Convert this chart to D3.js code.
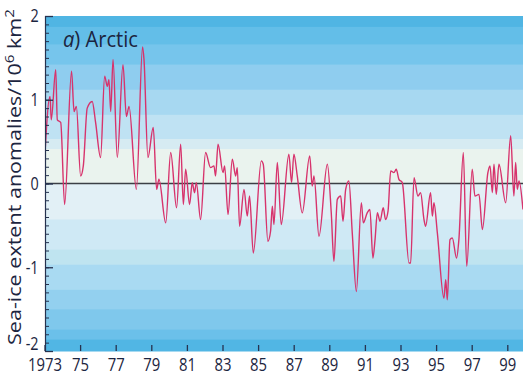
<!DOCTYPE html>
<html>
<head>
<meta charset="utf-8">
<script src="https://cdn.jsdelivr.net/npm/d3@7"></script>
<style>
  body { margin: 0; background: #fff; }
  svg { display: block; }
  text { font-family: "Open Sans", "Noto Sans", sans-serif; fill: #1c2540; }
</style>
</head>
<body>
<svg id="chart" width="523" height="376"></svg>
<script>
// monthly sea-ice anomaly curve at its turning points
var years = [
  1972.97, 1973.31, 1973.38, 1973.63, 1973.72, 1973.91, 1974.13, 1974.52, 1974.66, 1974.79,
  1975.03, 1975.18, 1975.40, 1975.68, 1975.87, 1976.15, 1976.38, 1976.53, 1976.62, 1976.72,
  1976.85, 1977.09, 1977.41, 1977.60, 1977.75, 1978.16, 1978.51, 1978.59, 1978.81, 1979.11,
  1979.30, 1979.43, 1979.81, 1980.09, 1980.42, 1980.65, 1980.80, 1980.93, 1981.15, 1981.30,
  1981.43, 1981.53, 1981.77, 1982.05, 1982.33, 1982.52, 1982.61, 1982.75, 1983.03, 1983.12,
  1983.31, 1983.55, 1983.74, 1983.83, 1983.96, 1984.21, 1984.39, 1984.52, 1984.73, 1985.18,
  1985.29, 1985.55, 1985.70, 1985.80, 1985.89, 1986.08, 1986.30, 1986.73, 1986.88, 1987.01,
  1987.20, 1987.48, 1987.90, 1988.04, 1988.14, 1988.42, 1988.89, 1989.11, 1989.26, 1989.45,
  1989.64, 1989.77, 1989.92, 1990.10, 1990.29, 1990.52, 1990.80, 1990.91, 1991.13, 1991.28,
  1991.45, 1991.57, 1991.70, 1991.85, 1992.03, 1992.16, 1992.30, 1992.45, 1992.63, 1992.76,
  1992.91, 1993.10, 1993.48, 1993.57, 1993.76, 1993.98, 1994.13, 1994.32, 1994.41, 1994.69,
  1994.79, 1994.88, 1995.07, 1995.44, 1995.54, 1995.63, 1995.78, 1995.91, 1996.15, 1996.28,
  1996.53, 1996.72, 1997.03, 1997.18, 1997.41, 1997.60, 1997.91, 1998.03, 1998.16, 1998.25,
  1998.38, 1998.53, 1998.91, 1999.19, 1999.37, 1999.47, 1999.56, 1999.66, 1999.88
];
var anomalies = [
  0.13, 1.04, 0.76, 1.36, 0.76, 0.73, -0.25, 1.34, 0.86, 0.92,
  0.09, 0.21, 0.90, 0.98, 0.73, 0.31, 1.28, 1.16, 1.24, 0.86,
  1.48, 0.31, 1.42, 0.80, 0.92, -0.07, 1.63, 1.48, 0.31, 0.67,
  -0.07, 0.05, -0.47, 0.37, -0.29, 0.47, -0.25, 0.17, -0.25, 0.01,
  -0.11, 0.01, -0.43, 0.37, 0.19, 0.21, 0.09, 0.47, 0.13, 0.21,
  -0.37, 0.29, 0.09, 0.19, -0.51, -0.07, -0.39, -0.15, -0.83, 0.27,
  0.23, -0.69, -0.57, -0.27, -0.49, 0.25, -0.49, 0.35, 0.01, 0.35,
  0.09, -0.35, 0.33, -0.03, 0.09, -0.63, 0.23, -0.35, -0.93, -0.19,
  -0.15, -0.45, -0.07, 0.03, -0.59, -1.29, -0.23, -0.47, -0.35, -0.31,
  -0.89, -0.67, -0.35, -0.45, -0.29, -0.43, -0.33, 0.15, 0.13, 0.17,
  0.05, 0.01, -0.95, -0.95, 0.07, -0.15, -0.11, -0.43, -0.51, -0.11,
  -0.39, -0.23, -0.59, -1.37, -1.15, -1.39, -0.67, -0.65, -0.89, -0.67,
  0.37, -0.99, 0.17, -0.15, -0.13, -0.55, 0.13, 0.21, -0.11, 0.23,
  -0.13, 0.23, -0.23, 0.57, -0.15, 0.25, -0.07, 0.03, -0.31
];
var xTickYears = [1973, 1975, 1977, 1979, 1981, 1983, 1985, 1987, 1989, 1991, 1993, 1995, 1997, 1999];
var xTickLabels = ["1973", "75", "77", "79", "81", "83", "85", "87", "89", "91", "93", "95", "97", "99"];
var yTicks = [-2, -1, 0, 1, 2];

// background colour bands (top value of each band)
var bandTops = [2, 1.87, 1.66, 1.42, 1.12, 0.82, 0.53, 0.41, 0, -0.43, -0.79, -0.97, -1.27, -1.5, -1.74, -1.86];
var bandColors = ["#50b5e3", "#63bee8", "#76c5ec", "#8fcdef", "#a7d8f1", "#bfe2f3", "#d6ebf2", "#eaf3ee",
                  "#e2f0f6", "#cfe9f5", "#bfe4f0", "#a9daf2", "#93d0ef", "#7fc8ec", "#6bc0ea", "#51b6e4"];

var svg = d3.select('#chart');
var margin = { left: 45, top: 16, bottom: 351, right: 523 };

var x = d3.scaleLinear().domain([1973, 2000]).range([44.5, 44.5 + 27 * 17.8]);
var y = d3.scaleLinear().domain([-2, 2]).range([margin.bottom, margin.top]);

// bands
svg.append('g').selectAll('rect')
    .data(bandTops)
    .enter().append('rect')
    .attr('x', margin.left)
    .attr('width', margin.right - margin.left)
    .attr('y', function (d) { return y(d); })
    .attr('height', function (d, i) {
        var bottom = i < bandTops.length - 1 ? bandTops[i + 1] : -2;
        return y(bottom) - y(d) + 0.5;
    })
    .attr('fill', function (d, i) { return bandColors[i]; });

// zero line
svg.append('line')
    .attr('x1', margin.left).attr('x2', margin.right)
    .attr('y1', y(0)).attr('y2', y(0))
    .attr('stroke', '#3b3f45')
    .attr('stroke-width', 1.6);

// series
var pts = years.map(function (d, i) { return [d, anomalies[i]]; });
svg.append('clipPath').attr('id', 'plotclip')
    .append('rect')
    .attr('x', margin.left).attr('y', margin.top)
    .attr('width', margin.right - margin.left).attr('height', margin.bottom - margin.top);

svg.append('path')
    .datum(pts)
    .attr('clip-path', 'url(#plotclip)')
    .attr('fill', 'none')
    .attr('stroke', '#d7336c')
    .attr('stroke-width', 1.4)
    .attr('stroke-linejoin', 'round')
    .attr('d', d3.line()
        .x(function (d) { return x(d[0]); })
        .y(function (d) { return y(d[1]); })
        .curve(d3.curveMonotoneX));

// y axis, minor ticks first
var yMinor = svg.append('g')
    .attr('transform', 'translate(' + margin.left + ',0)')
    .call(d3.axisLeft(y).tickValues(d3.range(-20, 21).map(function (d) { return d / 10; }))
        .tickSize(-4).tickFormat(''));
yMinor.select('.domain').remove();
yMinor.selectAll('line').attr('stroke', '#26324f');

var yAxis = svg.append('g')
    .attr('transform', 'translate(' + margin.left + ',0)')
    .call(d3.axisLeft(y).tickValues(yTicks).tickSize(-8).tickPadding(8)
        .tickFormat(function (d) { return String(d); }));
yAxis.select('.domain').attr('stroke', '#26324f').attr('stroke-width', 1.2);
yAxis.selectAll('line').attr('stroke', '#26324f').attr('stroke-width', 1.3);
yAxis.selectAll('text')
    .attr('font-size', 18)
    .attr('transform', 'scale(0.8,1)')
    .attr('dy', function (d) { return d === -2 ? '-0.1em' : '0.32em'; })
    .style('fill', '#1c2540');

// x axis
var xAxis = svg.append('g')
    .attr('transform', 'translate(0,' + margin.bottom + ')')
    .call(d3.axisBottom(x).tickValues(xTickYears).tickSize(-6).tickPadding(6)
        .tickFormat(function (d, i) { return xTickLabels[i]; }));
xAxis.select('.domain').remove();
xAxis.selectAll('line').attr('stroke', '#26324f').attr('stroke-width', 1.3);
xAxis.selectAll('text')
    .attr('font-size', 19)
    .attr('textLength', function (d, i) { return xTickLabels[i].length * 8.5; })
    .attr('lengthAdjust', 'spacingAndGlyphs')
    .style('fill', '#1c2540');

// axis title
svg.append('text')
    .attr('transform', 'translate(21,177) rotate(-90)')
    .attr('text-anchor', 'middle')
    .attr('font-size', 18.5)
    .attr('textLength', 336)
    .attr('lengthAdjust', 'spacingAndGlyphs')
    .html('Sea-ice extent anomalies/10<tspan dy="-7" font-size="13">6</tspan><tspan dy="7"> km</tspan><tspan dy="-7" font-size="13">2</tspan>');

// panel title
var title = svg.append('text')
    .attr('x', 63).attr('y', 47)
    .attr('font-size', 21)
    .attr('textLength', 75)
    .attr('lengthAdjust', 'spacingAndGlyphs');
title.append('tspan').attr('font-style', 'italic').text('a');
title.append('tspan').text(') Arctic');
</script>
</body>
</html>
